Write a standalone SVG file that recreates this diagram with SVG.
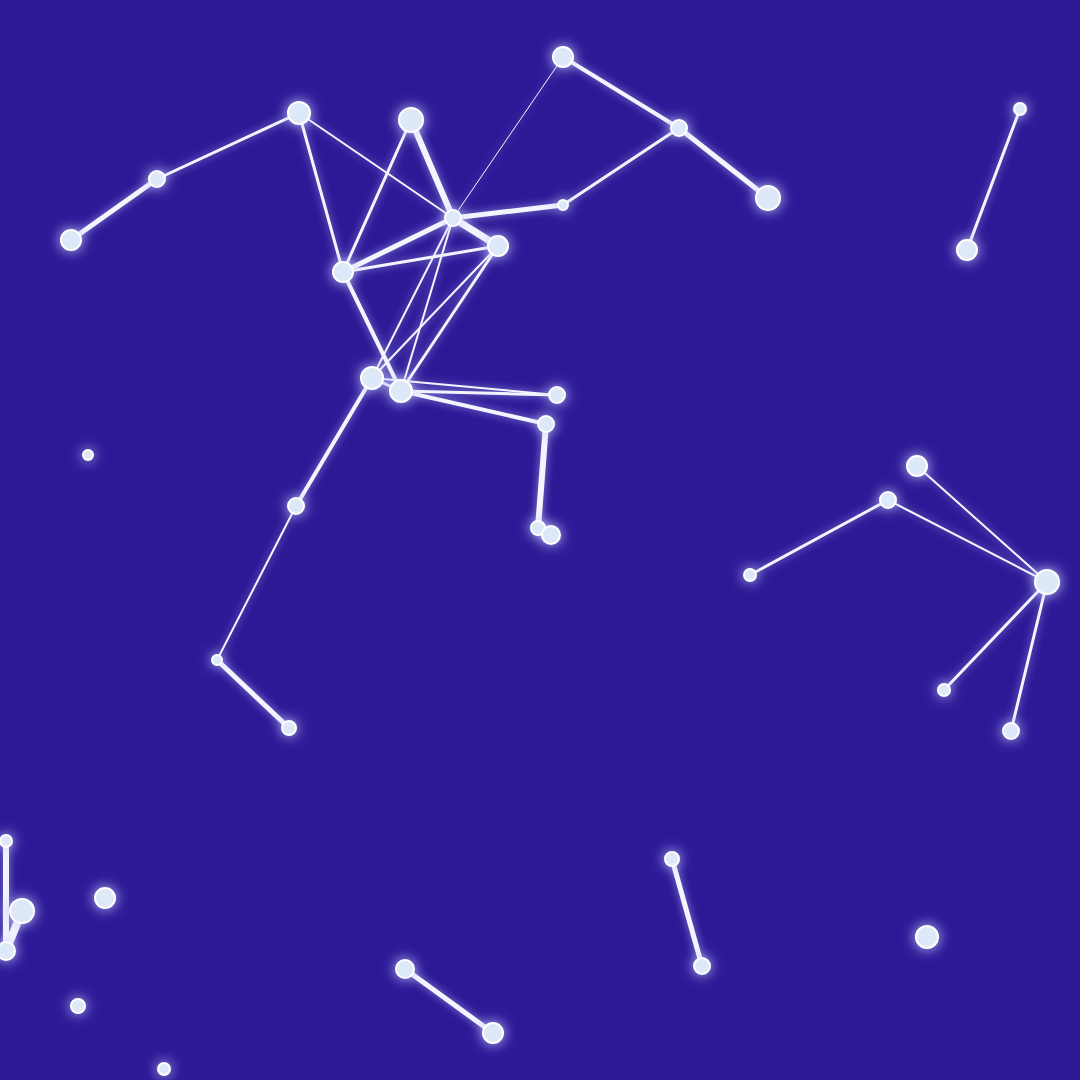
<svg xmlns="http://www.w3.org/2000/svg" width="1080" height="1080" viewBox="0 0 1080 1080">
<defs>
<filter id="glow" x="-100%" y="-100%" width="300%" height="300%">
<feGaussianBlur in="SourceGraphic" stdDeviation="7" result="b"/>
<feColorMatrix in="b" type="matrix" values="0 0 0 0 0.55  0 0 0 0 0.6  0 0 0 0 1  0 0 0 1 0" result="c"/>
<feMerge><feMergeNode in="c"/><feMergeNode in="SourceGraphic"/></feMerge>
</filter>
<filter id="eglow" x="-20%" y="-20%" width="140%" height="140%" filterUnits="userSpaceOnUse">
<feGaussianBlur in="SourceGraphic" stdDeviation="4" result="b"/>
<feColorMatrix in="b" type="matrix" values="0 0 0 0 0.5  0 0 0 0 0.55  0 0 0 0 1  0 0 0 0.7 0" result="c"/>
<feMerge><feMergeNode in="c"/><feMergeNode in="SourceGraphic"/></feMerge>
</filter>
</defs>
<style>
.e{stroke:#f4f4ff;stroke-linecap:round;fill:none}
.n circle{fill:#dde8f8;stroke:#ffffff;stroke-width:2}
</style>
<rect width="1080" height="1080" fill="#2d1896"/>
<g id="connectors" filter="url(#eglow)">
<line class="e" x1="71" y1="240" x2="157" y2="179" stroke-width="5"/>
<line class="e" x1="157" y1="179" x2="299" y2="113" stroke-width="3"/>
<line class="e" x1="299" y1="113" x2="343" y2="272" stroke-width="3"/>
<line class="e" x1="299" y1="113" x2="453" y2="218" stroke-width="2"/>
<line class="e" x1="411" y1="120" x2="453" y2="218" stroke-width="6"/>
<line class="e" x1="411" y1="120" x2="343" y2="272" stroke-width="3"/>
<line class="e" x1="563" y1="57" x2="453" y2="218" stroke-width="1"/>
<line class="e" x1="563" y1="57" x2="679" y2="128" stroke-width="4"/>
<line class="e" x1="679" y1="128" x2="768" y2="198" stroke-width="5"/>
<line class="e" x1="679" y1="128" x2="563" y2="205" stroke-width="3"/>
<line class="e" x1="563" y1="205" x2="453" y2="218" stroke-width="5"/>
<line class="e" x1="453" y1="218" x2="498" y2="246" stroke-width="7"/>
<line class="e" x1="453" y1="218" x2="343" y2="272" stroke-width="5"/>
<line class="e" x1="498" y1="246" x2="343" y2="272" stroke-width="3"/>
<line class="e" x1="343" y1="272" x2="401" y2="391" stroke-width="4"/>
<line class="e" x1="453" y1="218" x2="372" y2="378" stroke-width="2"/>
<line class="e" x1="453" y1="218" x2="401" y2="391" stroke-width="2"/>
<line class="e" x1="498" y1="246" x2="372" y2="378" stroke-width="2"/>
<line class="e" x1="498" y1="246" x2="401" y2="391" stroke-width="3"/>
<line class="e" x1="372" y1="378" x2="557" y2="395" stroke-width="2"/>
<line class="e" x1="401" y1="391" x2="557" y2="395" stroke-width="3"/>
<line class="e" x1="401" y1="391" x2="546" y2="424" stroke-width="4"/>
<line class="e" x1="372" y1="378" x2="401" y2="391" stroke-width="3"/>
<line class="e" x1="372" y1="378" x2="296" y2="506" stroke-width="4"/>
<line class="e" x1="296" y1="506" x2="217" y2="660" stroke-width="2"/>
<line class="e" x1="217" y1="660" x2="289" y2="728" stroke-width="5"/>
<line class="e" x1="546" y1="424" x2="538" y2="528" stroke-width="6"/>
<line class="e" x1="538" y1="528" x2="551" y2="535" stroke-width="6"/>
<line class="e" x1="1020" y1="109" x2="967" y2="250" stroke-width="3"/>
<line class="e" x1="917" y1="466" x2="1047" y2="582" stroke-width="2"/>
<line class="e" x1="888" y1="500" x2="1047" y2="582" stroke-width="2"/>
<line class="e" x1="888" y1="500" x2="750" y2="575" stroke-width="3"/>
<line class="e" x1="1047" y1="582" x2="944" y2="690" stroke-width="3"/>
<line class="e" x1="1047" y1="582" x2="1011" y2="731" stroke-width="3"/>
<line class="e" x1="6" y1="841" x2="6" y2="951" stroke-width="6"/>
<line class="e" x1="22" y1="911" x2="6" y2="951" stroke-width="8"/>
<line class="e" x1="405" y1="969" x2="493" y2="1033" stroke-width="5"/>
<line class="e" x1="672" y1="859" x2="702" y2="966" stroke-width="5"/>
</g>
<g filter="url(#glow)">
<g id="n1" class="n"><circle cx="71" cy="240" r="10"/></g>
<g id="n2" class="n"><circle cx="157" cy="179" r="8"/></g>
<g id="n3" class="n"><circle cx="299" cy="113" r="11"/></g>
<g id="n4" class="n"><circle cx="411" cy="120" r="12"/></g>
<g id="n5" class="n"><circle cx="563" cy="57" r="10"/></g>
<g id="n6" class="n"><circle cx="679" cy="128" r="8"/></g>
<g id="n7" class="n"><circle cx="768" cy="198" r="12"/></g>
<g id="n8" class="n"><circle cx="1020" cy="109" r="6"/></g>
<g id="n9" class="n"><circle cx="967" cy="250" r="10"/></g>
<g id="n10" class="n"><circle cx="453" cy="218" r="8"/></g>
<g id="n11" class="n"><circle cx="498" cy="246" r="10"/></g>
<g id="n12" class="n"><circle cx="343" cy="272" r="10"/></g>
<g id="n13" class="n"><circle cx="563" cy="205" r="5"/></g>
<g id="n14" class="n"><circle cx="372" cy="378" r="11"/></g>
<g id="n15" class="n"><circle cx="401" cy="391" r="11"/></g>
<g id="n16" class="n"><circle cx="557" cy="395" r="8"/></g>
<g id="n17" class="n"><circle cx="546" cy="424" r="8"/></g>
<g id="n18" class="n"><circle cx="538" cy="528" r="7"/></g>
<g id="n19" class="n"><circle cx="551" cy="535" r="9"/></g>
<g id="n20" class="n"><circle cx="296" cy="506" r="8"/></g>
<g id="n21" class="n"><circle cx="217" cy="660" r="5"/></g>
<g id="n22" class="n"><circle cx="289" cy="728" r="7"/></g>
<g id="n23" class="n"><circle cx="88" cy="455" r="5"/></g>
<g id="n24" class="n"><circle cx="917" cy="466" r="10"/></g>
<g id="n25" class="n"><circle cx="888" cy="500" r="8"/></g>
<g id="n26" class="n"><circle cx="750" cy="575" r="6"/></g>
<g id="n27" class="n"><circle cx="1047" cy="582" r="12"/></g>
<g id="n28" class="n"><circle cx="944" cy="690" r="6"/></g>
<g id="n29" class="n"><circle cx="1011" cy="731" r="8"/></g>
<g id="n30" class="n"><circle cx="6" cy="841" r="6"/></g>
<g id="n31" class="n"><circle cx="22" cy="911" r="12"/></g>
<g id="n32" class="n"><circle cx="6" cy="951" r="9"/></g>
<g id="n33" class="n"><circle cx="105" cy="898" r="10"/></g>
<g id="n34" class="n"><circle cx="78" cy="1006" r="7"/></g>
<g id="n35" class="n"><circle cx="164" cy="1069" r="6"/></g>
<g id="n36" class="n"><circle cx="405" cy="969" r="9"/></g>
<g id="n37" class="n"><circle cx="493" cy="1033" r="10"/></g>
<g id="n38" class="n"><circle cx="672" cy="859" r="7"/></g>
<g id="n39" class="n"><circle cx="702" cy="966" r="8"/></g>
<g id="n40" class="n"><circle cx="927" cy="937" r="11"/></g>
</g>
</svg>
